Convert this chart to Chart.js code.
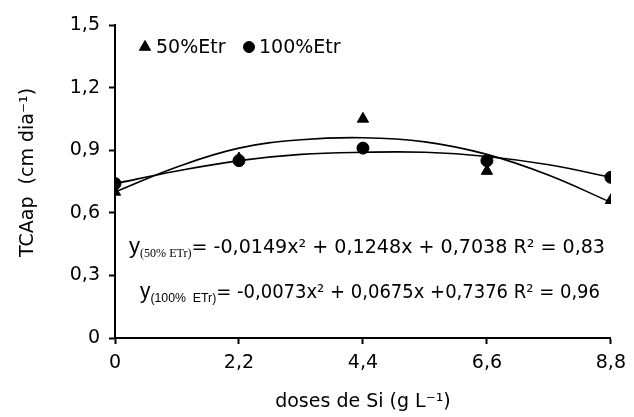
<!DOCTYPE html>
<html>
<head>
<meta charset="utf-8">
<script src="https://cdn.jsdelivr.net/npm/chart.js@4.4.0/dist/chart.umd.min.js"></script>
<style>
  html, body { margin: 0; padding: 0; background: #fff; }
  #wrap { width: 634px; height: 417px; }
</style>
</head>
<body>
<div id="wrap"><canvas id="myChart" width="634" height="417"></canvas></div>
<script>
// doses de Si (g L-1)
let doses = [0, 2.2, 4.4, 6.6, 8.8];
// observed values
let etr50 = [0.70, 0.86, 1.05, 0.80, 0.66];
let etr100 = [0.74, 0.85, 0.91, 0.85, 0.77];
// fitted curves
let fitX = [0, 1.1, 2.2, 3.3, 4.4, 5.5, 6.6, 7.7, 8.8];
let fit50 = [0.70, 0.82, 0.91, 0.95, 0.96, 0.94, 0.88, 0.78, 0.65];
let fit100 = [0.74, 0.80, 0.85, 0.88, 0.89, 0.89, 0.87, 0.83, 0.77];

let xTicks = [0, 2.2, 4.4, 6.6, 8.8];
let yTicks = [0, 0.3, 0.6, 0.9, 1.2, 1.5];

let labels = ['50%Etr', '100%Etr'];

let eq50 = ['y', '(50% ETr)', '= -0,0149x² + 0,1248x + 0,7038 R² = 0,83'];
let eq100 = ['y', '(100%  ETr)', '= -0,0073x² + 0,0675x +0,7376 R² = 0,96'];

const FONT = '"DejaVu Sans", "Liberation Sans", Arial, sans-serif';

function toPts(xs, ys) {
    return xs.map((x, i) => ({x: x, y: ys[i]}));
}
function fmt(v) {
    if (v === 0) return '0';
    return v.toFixed(1).replace('.', ',');
}

// legend + equations drawn on top
const extras = {
    id: 'extras',
    afterDatasetsDraw(chart) {
        const ctx = chart.ctx;
        ctx.save();
        ctx.fillStyle = '#000';
        ctx.strokeStyle = '#000';
        // legend
        ctx.font = '19px ' + FONT;
        ctx.textBaseline = 'middle';
        ctx.textAlign = 'left';
        Chart.helpers.drawPoint(ctx, {pointStyle: 'triangle', radius: 6.5, borderWidth: 1}, 145, 47);
        ctx.fillText(labels[0], 156, 48);
        Chart.helpers.drawPoint(ctx, {pointStyle: 'circle', radius: 5.5, borderWidth: 1}, 249, 47);
        ctx.fillText(labels[1], 259, 48);

        // equations
        function eq(parts, x0, base, subFont, xEnd) {
            ctx.textBaseline = 'alphabetic';
            let segs = [
                {t: parts[0], f: '22px "Liberation Sans", Arial, sans-serif', dy: 0},
                {t: parts[1], f: subFont, dy: 4},
                {t: parts[2], f: '19px ' + FONT, dy: 0}
            ];
            let w = 0;
            segs.forEach(s => { ctx.font = s.f; s.w = ctx.measureText(s.t).width; w += s.w; });
            let k = (xEnd - x0) / w;
            ctx.save();
            ctx.translate(x0, base);
            ctx.scale(k, 1);
            let x = 0;
            segs.forEach(s => { ctx.font = s.f; ctx.fillText(s.t, x, s.dy); x += s.w; });
            ctx.restore();
        }
        eq(eq50, 129, 253, '12px "Liberation Serif", "Times New Roman", serif', 605);
        eq(eq100, 140, 298, '13px "Liberation Sans", Arial, sans-serif', 600);
        ctx.restore();
    }
};

let ctx1 = document.getElementById('myChart').getContext('2d');

let chart1 = new Chart(ctx1, {
    type: 'scatter',
    data: {
        datasets: [
            {
                label: labels[1],
                data: toPts(doses, etr100),
                pointStyle: 'circle',
                pointRadius: 6,
                backgroundColor: '#000',
                borderColor: '#000',
                order: 1
            },
            {
                label: labels[0],
                data: toPts(doses, etr50),
                pointStyle: 'triangle',
                pointRadius: 6.5,
                backgroundColor: '#000',
                borderColor: '#000',
                order: 2
            },
            {
                label: 'fit50',
                data: toPts(fitX, fit50),
                showLine: true,
                pointRadius: 0,
                borderColor: '#000',
                borderWidth: 1.6,
                tension: 0.4,
                order: 3
            },
            {
                label: 'fit100',
                data: toPts(fitX, fit100),
                showLine: true,
                pointRadius: 0,
                borderColor: '#000',
                borderWidth: 1.6,
                tension: 0.4,
                order: 4
            }
        ]
    },
    options: {
        responsive: false,
        animation: false,
        layout: {padding: {left: 0, right: 21, top: 25, bottom: 0}},
        plugins: {
            legend: {display: false},
            tooltip: {enabled: false}
        },
        scales: {
            x: {
                type: 'linear',
                min: 0,
                max: 8.8,
                afterBuildTicks: s => { s.ticks = xTicks.map(v => ({value: v})); },
                afterFit: s => { s.height = 79; },
                border: {color: '#000', width: 2},
                grid: {drawOnChartArea: false, drawTicks: true, tickLength: 6, tickColor: '#000', tickWidth: 2},
                ticks: {
                    color: '#000',
                    font: {family: FONT, size: 19},
                    padding: 8,
                    maxRotation: 0,
                    callback: v => fmt(v)
                },
                title: {
                    display: true,
                    text: 'doses de Si (g L⁻¹)',
                    color: '#000',
                    font: {family: FONT, size: 19},
                    padding: {top: 0, bottom: 4}
                }
            },
            y: {
                min: 0,
                max: 1.5,
                afterBuildTicks: s => { s.ticks = yTicks.map(v => ({value: v})); },
                afterFit: s => { s.width = 115; },
                border: {color: '#000', width: 2},
                grid: {drawOnChartArea: false, drawTicks: true, tickLength: 6, tickColor: '#000', tickWidth: 2},
                ticks: {
                    color: '#000',
                    font: {family: FONT, size: 19},
                    padding: 9,
                    callback: v => fmt(v)
                },
                title: {
                    display: true,
                    text: '\u00A0\u00A0\u00A0TCAap\u00A0 (cm dia⁻¹)',
                    color: '#000',
                    font: {family: FONT, size: 19},
                    padding: {top: 17, bottom: 0}
                }
            }
        }
    },
    plugins: [extras]
});
</script>
</body>
</html>
